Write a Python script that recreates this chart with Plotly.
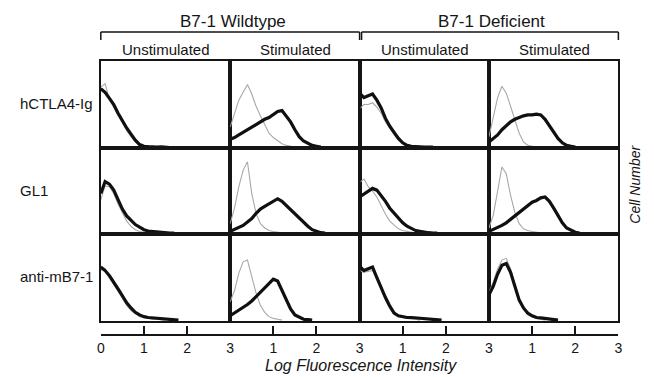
import plotly.graph_objects as go

W, H = 654, 377

# ---------------- data ----------------
BINS = [0.0, 0.1, 0.2, 0.3, 0.4, 0.5, 0.6, 0.7, 0.8, 0.9, 1.0, 1.1, 1.2,
        1.3, 1.4, 1.5, 1.6, 1.7, 1.8, 1.9, 2.0, 2.1, 2.2, 2.3, 2.4]

ROW_LABELS = ["hCTLA4-Ig", "GL1", "anti-mB7-1"]
GROUPS = ["B7-1 Wildtype", "B7-1 Deficient"]
CONDITIONS = ["Unstimulated", "Stimulated", "Unstimulated", "Stimulated"]
SCALE_TICKS = [0, 1, 2, 3]
X_TITLE = "Log Fluorescence Intensity"
Y_TITLE = "Cell Number"

# hCTLA4-Ig row
wt_unstim_ctla_black = [68, 64, 57, 50, 40, 31, 23, 16, 9, 4, 2, 1.5, 1, 1, 1.2, 0.8, 0.5]
wt_unstim_ctla_gray = [70, 74, 56, 47, 37, 28, 20, 13, 7, 3, 1.5, 1, 0.8, 0.5]
wt_stim_ctla_black = [10, 12, 15, 18, 21, 24, 27, 31, 33, 35, 38, 42, 43, 37, 30, 21, 13, 8, 5, 3, 2, 1]
wt_stim_ctla_gray = [24, 40, 55, 64, 73, 62, 48, 37, 26, 17, 12, 8, 5, 3, 2, 1, 1]
def_unstim_ctla_black = [63, 58, 60, 62, 55, 46, 34, 25, 18, 11, 6, 3, 2, 1.5, 1.5, 1, 1, 1]
def_unstim_ctla_gray = [45, 50, 50, 52, 47, 40, 30, 22, 15, 9, 5, 3, 2, 1]
def_stim_ctla_black = [7, 11, 15, 21, 26, 30, 33, 35, 37, 38, 38, 39, 38, 33, 26, 19, 11, 6, 3, 2, 1]
def_stim_ctla_gray = [13, 35, 58, 71, 63, 48, 32, 17, 7, 3, 2, 1]

# GL1 row
wt_unstim_gl1_black = [47, 61, 58, 51, 40, 29, 21, 16, 11, 8, 5, 3.5, 3, 2, 2, 1.5, 1, 1]
wt_unstim_gl1_gray = [40, 56, 55, 47, 35, 24, 15, 9, 5, 3, 2, 1]
wt_stim_gl1_black = [3, 5, 7, 10, 14, 18, 24, 29, 32, 35, 38, 41, 38, 33, 29, 24, 19, 13, 9, 5, 3, 1.5, 1]
wt_stim_gl1_gray = [12, 30, 55, 74, 84, 47, 24, 12, 7, 4, 3, 2, 1.5, 1]
def_unstim_gl1_black = [43, 46, 50, 53, 51, 45, 38, 30, 24, 18, 13, 9, 6, 4, 3, 2, 1.5, 1, 1]
def_unstim_gl1_gray = [60, 64, 55, 50, 43, 33, 23, 15, 10, 6, 4, 3, 2, 1]
def_stim_gl1_black = [3, 5, 7, 10, 13, 17, 22, 26, 30, 34, 37, 39, 42, 43, 38, 30, 22, 13, 7, 4, 2, 1]
def_stim_gl1_gray = [7, 22, 50, 78, 70, 45, 25, 12, 6, 4, 3, 2, 1.5, 1]

# anti-mB7-1 row
wt_unstim_mb7_black = [62, 58, 52, 45, 37, 29, 21, 15, 10, 7, 5, 4, 3.5, 3, 2.5, 2, 1.5, 1, 1]
wt_unstim_mb7_gray = [58, 60, 50, 42, 34, 26, 18, 12, 8, 5, 4, 3, 2, 2, 1.5, 1]
wt_stim_mb7_black = [6, 9, 12, 15, 19, 23, 28, 32, 37, 42, 48, 46, 35, 24, 14, 7, 4, 2, 1.5, 1]
wt_stim_mb7_gray = [22, 35, 55, 68, 70, 52, 32, 18, 10, 5, 3, 2, 1]
def_unstim_mb7_black = [63, 58, 60, 62, 50, 38, 27, 17, 9, 6, 5, 4, 4, 3.5, 3, 3, 2.5, 2, 1.5, 1]
def_unstim_mb7_gray = [58, 56, 57, 58, 47, 35, 24, 15, 8, 5, 4, 3, 2, 2, 1]
def_stim_mb7_black = [30, 40, 54, 64, 66, 56, 40, 24, 15, 9, 6, 4, 3.5, 3, 2, 1.5, 1]
def_stim_mb7_gray = [33, 45, 60, 70, 72, 60, 42, 25, 14, 8, 5, 3, 2, 1]

PANELS = [
    [(wt_unstim_ctla_gray, wt_unstim_ctla_black), (wt_stim_ctla_gray, wt_stim_ctla_black),
     (def_unstim_ctla_gray, def_unstim_ctla_black), (def_stim_ctla_gray, def_stim_ctla_black)],
    [(wt_unstim_gl1_gray, wt_unstim_gl1_black), (wt_stim_gl1_gray, wt_stim_gl1_black),
     (def_unstim_gl1_gray, def_unstim_gl1_black), (def_stim_gl1_gray, def_stim_gl1_black)],
    [(wt_unstim_mb7_gray, wt_unstim_mb7_black), (wt_stim_mb7_gray, wt_stim_mb7_black),
     (def_unstim_mb7_gray, def_unstim_mb7_black), (def_stim_mb7_gray, def_stim_mb7_black)],
]

# ---------------- layout ----------------
COL_EDGES = [98, 229, 360, 491, 622]
ROW_EDGES = [61, 148, 234, 321]
SCALE_Y = 335
FONT = "Liberation Sans, Arial, Helvetica, sans-serif"
INK = "#151515"


def px(xp):
    return xp / W


def py(yp):
    return 1 - yp / H


fig = go.Figure()
layout = {}
for r in range(3):
    for c in range(4):
        k = r * 4 + c + 1
        sfx = "" if k == 1 else str(k)
        gray, black = PANELS[r][c]
        fig.add_trace(go.Scatter(x=BINS[:len(gray)], y=gray, mode="lines",
                                 line=dict(color="#a8a8a8", width=1.1),
                                 xaxis="x" + sfx, yaxis="y" + sfx,
                                 showlegend=False, hoverinfo="skip"))
        fig.add_trace(go.Scatter(x=BINS[:len(black)], y=black, mode="lines",
                                 line=dict(color="#101010", width=3.2),
                                 xaxis="x" + sfx, yaxis="y" + sfx,
                                 showlegend=False, hoverinfo="skip"))
        common = dict(showline=True, mirror=True, linecolor=INK, linewidth=1.5,
                      showgrid=False, zeroline=False, showticklabels=False, ticks="")
        layout["xaxis" + sfx] = dict(domain=[px(COL_EDGES[c]), px(COL_EDGES[c + 1])],
                                     anchor="y" + sfx, range=[0, 3], **common)
        layout["yaxis" + sfx] = dict(domain=[py(ROW_EDGES[r + 1]), py(ROW_EDGES[r])],
                                     anchor="x" + sfx, range=[0, 100], **common)

# scale bars beneath the bottom row
for c in range(4):
    k = 13 + c
    base = 9 + c
    fig.add_trace(go.Scatter(x=[None], y=[None], mode="lines", xaxis="x%d" % k,
                             yaxis="y%d" % base, showlegend=False, hoverinfo="skip"))
    ticktext = [str(t) for t in SCALE_TICKS]
    if c > 0:
        ticktext[0] = ""
    layout["xaxis%d" % k] = dict(overlaying="x%d" % base, anchor="free",
                                 position=py(SCALE_Y), range=[0, 3],
                                 showline=True, linecolor=INK, linewidth=1.5,
                                 ticks="inside", ticklen=8, tickwidth=1.5, tickcolor=INK,
                                 tickvals=SCALE_TICKS, ticktext=ticktext,
                                 tickfont=dict(size=14, color=INK, family=FONT),
                                 showgrid=False, zeroline=False)

annotations = []


def note(xp, yp, text, size, **kw):
    d = dict(x=px(xp), y=py(yp), text=text, showarrow=False, xref="paper",
             yref="paper", xanchor="center", yanchor="middle", font=dict(size=size))
    d.update(kw)
    annotations.append(d)


for g, name in enumerate(GROUPS):
    cx = (COL_EDGES[2 * g] + COL_EDGES[2 * g + 2]) / 2 + 3
    note(cx, 21, name, 17)
for c, name in enumerate(CONDITIONS):
    cx = (COL_EDGES[c] + COL_EDGES[c + 1]) / 2 + 1
    note(cx, 49, name, 15)
for r, name in enumerate(ROW_LABELS):
    cy = (ROW_EDGES[r] + ROW_EDGES[r + 1]) / 2
    note(14, cy - 1, name, 15, xanchor="left")
note(361, 365, "<i>%s</i>" % X_TITLE, 16)
note(638.5, 184, "<i>%s</i>" % Y_TITLE, 14, textangle=-90)

shapes = []
line_style = dict(color=INK, width=1.5)
for (x0, x1) in [(98, 360), (362, 622)]:
    shapes.append(dict(type="line", xref="paper", yref="paper",
                       x0=px(x0), x1=px(x1), y0=py(32), y1=py(32), line=line_style))
    for xe in (x0, x1):
        shapes.append(dict(type="line", xref="paper", yref="paper",
                           x0=px(xe), x1=px(xe), y0=py(32), y1=py(40), line=line_style))
shapes.append(dict(type="line", xref="paper", yref="paper", x0=px(360), x1=px(360),
                   y0=py(ROW_EDGES[0]), y1=py(ROW_EDGES[-1]),
                   line=dict(color=INK, width=2)))

fig.update_layout(
    width=W, height=H, margin=dict(l=0, r=0, t=0, b=0),
    paper_bgcolor="white", plot_bgcolor="white",
    font=dict(family=FONT, color=INK),
    annotations=annotations, shapes=shapes,
    **layout,
)

fig.write_html("out.html")
